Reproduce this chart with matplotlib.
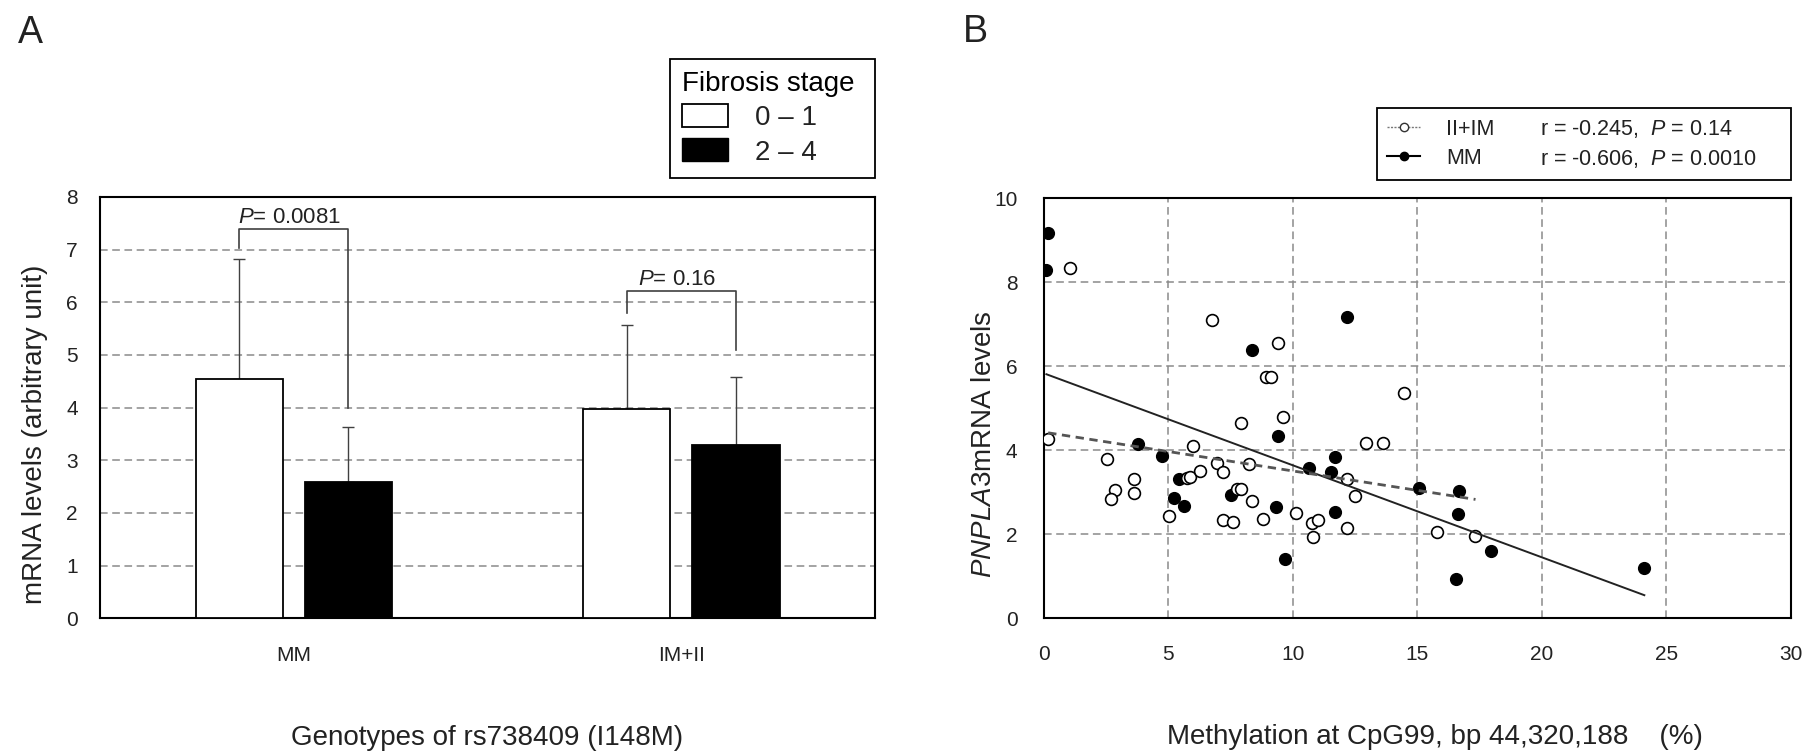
import matplotlib
matplotlib.use("Agg")
import matplotlib.pyplot as plt
import numpy as np
from matplotlib.lines import Line2D
from matplotlib.patches import Patch

plt.rcParams["font.family"] = ["Liberation Sans", "DejaVu Sans"]
plt.rcParams["mathtext.fontset"] = "custom"
plt.rcParams["mathtext.rm"] = "Liberation Sans"
plt.rcParams["mathtext.it"] = "Liberation Sans:italic"

# ---- Panel A data ----
genotypes = ["MM", "IM+II"]
stage_labels = ["0 \u2013 1", "2 \u2013 4"]
mean_early = [4.54, 3.97]
mean_late = [2.58, 3.30]
sd_early = [2.29, 1.59]
sd_late = [1.05, 1.28]
p_values = ["0.0081", "0.16"]
bracket_top = [7.40, 6.22]
bracket_left_end = [7.04, 5.80]
bracket_right_end = [3.99, 5.09]

# ---- Panel B data ----
mm_x = [0.17, 0.10, 8.34, 12.18, 3.76, 4.75, 9.38, 5.42, 5.23, 5.63, 7.52, 9.33,
        9.68, 10.63, 11.54, 11.70, 11.70, 15.06, 16.68, 16.61, 17.96, 16.55, 24.11]
mm_y = [9.18, 8.29, 6.39, 7.18, 4.14, 3.87, 4.35, 3.32, 2.86, 2.67, 2.93, 2.64,
        1.41, 3.57, 3.49, 3.83, 2.54, 3.11, 3.04, 2.48, 1.59, 0.94, 1.20]
iim_x = [1.04, 6.76, 9.38, 8.91, 9.12, 14.46, 0.17, 2.54, 5.97, 7.90, 9.61, 12.92,
         13.63, 3.61, 3.61, 2.85, 2.68, 5.74, 5.86, 6.27, 6.96, 7.20, 8.25, 5.03,
         7.76, 7.91, 8.34, 7.18, 7.58, 8.81, 10.12, 10.76, 11.02, 10.81, 12.18,
         12.49, 12.18, 15.77, 17.33]
iim_y = [8.33, 7.10, 6.55, 5.74, 5.74, 5.36, 4.26, 3.79, 4.09, 4.64, 4.78, 4.17,
         4.17, 3.32, 2.98, 3.05, 2.85, 3.35, 3.36, 3.51, 3.69, 3.49, 3.67, 2.44,
         3.07, 3.07, 2.78, 2.34, 2.29, 2.36, 2.51, 2.27, 2.33, 1.94, 3.32,
         2.90, 2.14, 2.05, 1.96]
# regression lines as drawn in the figure (intercept, slope)
mm_fit = (5.83, -0.219)
iim_fit = (4.43, -0.0924)
legend_stats = ["r = -0.245,  $P$ = 0.14", "r = -0.606,  $P$ = 0.0010"]

grid_kw = dict(color="#8a8a8a", linestyle=(0, (5, 3)), linewidth=1.1)

fig = plt.figure(figsize=(18.08, 7.53), dpi=100)

# ================= Panel A =================
axA = fig.add_axes([0.0553, 0.1789, 0.4287, 0.5595])
x = np.arange(len(genotypes))
w = 0.225
off = 0.141
axA.bar(x - off, mean_early, w, color="white", edgecolor="black", linewidth=1.3, zorder=3)
axA.bar(x + off, mean_late, w, color="black", edgecolor="black", linewidth=1.3, zorder=3)
axA.errorbar(x - off, mean_early, yerr=[np.zeros(2), sd_early], fmt="none",
             ecolor="#404040", elinewidth=1.0, capsize=4, capthick=1.0, zorder=2)
axA.errorbar(x + off, mean_late, yerr=[np.zeros(2), sd_late], fmt="none",
             ecolor="#404040", elinewidth=1.0, capsize=4, capthick=1.0, zorder=2)

for i in range(len(genotypes)):
    xl, xr = x[i] - off, x[i] + off
    axA.plot([xl, xl, xr, xr], [bracket_left_end[i], bracket_top[i], bracket_top[i], bracket_right_end[i]],
             color="#404040", linewidth=1.2, zorder=4)
    axA.text(x[i] - 0.01, bracket_top[i] + 0.1, "$P$= " + p_values[i], ha="center", va="baseline",
             fontsize=16, color="#222222")

axA.set_xlim(-0.5, 1.5)
axA.set_ylim(0, 8)
axA.set_yticks(range(0, 9))
axA.set_xticks(x)
axA.set_xticklabels(genotypes)
axA.yaxis.grid(True, **grid_kw)
axA.set_axisbelow(True)
axA.tick_params(axis="y", length=0, pad=16, labelsize=15, labelcolor="#222222")
axA.tick_params(axis="x", length=0, pad=20, labelsize=15, labelcolor="#222222")
for s in axA.spines.values():
    s.set_linewidth(1.5)
axA.set_ylabel("mRNA levels (arbitrary unit)", fontsize=20, color="#222222")
axA.yaxis.set_label_coords(-0.067, 0.436)
axA.set_xlabel("Genotypes of rs738409 (I148M)", fontsize=20, color="#222222")
axA.xaxis.set_label_coords(0.5, -0.283)
axA.xaxis.label.set_va("center")

legA = axA.legend([Patch(facecolor="white", edgecolor="black", linewidth=1.3),
                   Patch(facecolor="black", edgecolor="black")],
                  stage_labels, title="Fibrosis stage ", loc="lower right",
                  bbox_to_anchor=(1.0, 1.045), borderaxespad=0, fontsize=20,
                  title_fontsize=20, handlelength=1.63, handleheight=0.9,
                  handletextpad=1.0, labelspacing=0.25, borderpad=0.45,
                  alignment="left", fancybox=False, edgecolor="black", framealpha=1)
legA.get_frame().set_linewidth(1.3)
for t in legA.get_texts():
    t.set_color("#222222")

fig.text(18 / 1808, 1 - 15 / 753, "A", fontsize=27, va="top", ha="left", color="#222222")

# ================= Panel B =================
axB = fig.add_axes([0.5774, 0.1789, 0.4132, 0.5580])
mm_x_a, mm_y_a = np.array(mm_x), np.array(mm_y)
iim_x_a, iim_y_a = np.array(iim_x), np.array(iim_y)

axB.scatter(mm_x_a, mm_y_a, s=72, color="black", edgecolors="black", linewidths=1.0, zorder=3)
axB.scatter(iim_x_a, iim_y_a, s=72, facecolors="white", edgecolors="black", linewidths=1.2, zorder=4)

xs_mm = np.array([mm_x_a.min(), mm_x_a.max()])
axB.plot(xs_mm, mm_fit[0] + mm_fit[1] * xs_mm, color="#222222", linewidth=1.4, zorder=5)
xs_iim = np.array([iim_x_a.min(), iim_x_a.max()])
axB.plot(xs_iim, iim_fit[0] + iim_fit[1] * xs_iim, color="#555555", linewidth=2.0,
         linestyle=(0, (3, 2)), zorder=5)

axB.set_xlim(0, 30)
axB.set_ylim(0, 10)
axB.set_xticks(range(0, 31, 5))
axB.set_yticks(range(0, 11, 2))
axB.grid(True, **grid_kw)
axB.set_axisbelow(True)
axB.tick_params(axis="y", length=0, pad=19, labelsize=15, labelcolor="#222222")
axB.tick_params(axis="x", length=0, pad=19, labelsize=15, labelcolor="#222222")
for s in axB.spines.values():
    s.set_linewidth(1.5)
axB.set_ylabel(r"$\mathit{PNPLA3}$mRNA levels", fontsize=20, color="#222222")
axB.yaxis.set_label_coords(-0.063, 0.414)
axB.set_xlabel("Methylation at CpG99, bp 44,320,188    (%)", fontsize=20, color="#222222")
axB.xaxis.set_label_coords(0.523, -0.283)
axB.xaxis.label.set_va("center")

h_iim = Line2D([0], [0], color="#777777", linestyle=(0, (1.5, 1)), linewidth=1.0,
               marker="o", markersize=6, markerfacecolor="white", markeredgecolor="#333333")
h_mm = Line2D([0], [0], color="black", linewidth=1.5, marker="o", markersize=6,
              markerfacecolor="black", markeredgecolor="black")
blank = Line2D([], [], linestyle="none")
legB = axB.legend([h_iim, h_mm, blank, blank],
                  ["II+IM", "MM"] + [s + "     " for s in legend_stats],
                  ncol=2, loc="lower right", bbox_to_anchor=(1.0, 1.044), borderaxespad=0,
                  fontsize=15.5, handlelength=1.55, handletextpad=1.2, columnspacing=-0.62,
                  labelspacing=0.38, borderpad=0.45, fancybox=False, edgecolor="black",
                  framealpha=1)
legB.get_frame().set_linewidth(1.3)
for t in legB.get_texts():
    t.set_color("#222222")

fig.text(963 / 1808, 1 - 14 / 753, "B", fontsize=27, va="top", ha="left", color="#222222")

fig.savefig("out.png", dpi=100)
